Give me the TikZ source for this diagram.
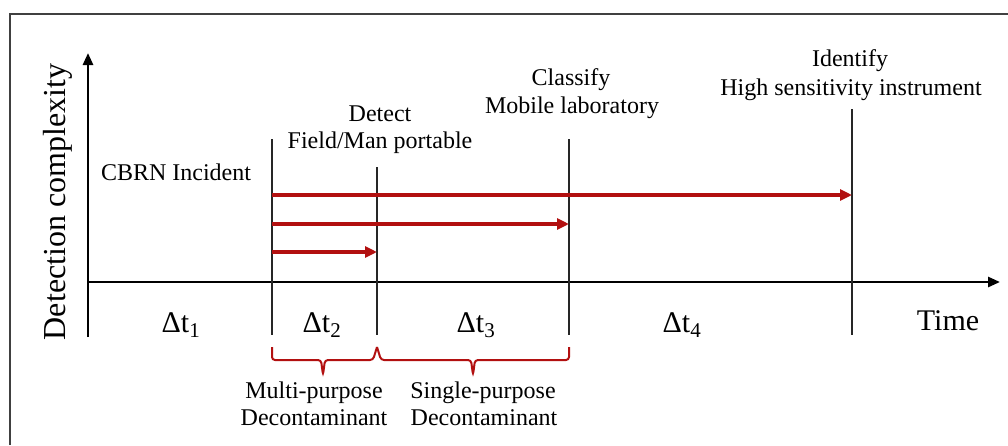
\documentclass[tikz,border=0pt]{standalone}
\usepackage{fontspec}
\setmainfont{Liberation Serif}
\usetikzlibrary{arrows.meta}
\definecolor{phasered}{RGB}{178,16,16}
\tikzset{
  lbl/.style={anchor=base, inner sep=0pt, font=\fontsize{24}{28}\selectfont},
  dlbl/.style={anchor=base, inner sep=0pt, font=\fontsize{30}{34}\selectfont},
  frame/.style={line width=1.3pt, black!75},
  axis/.style={line width=2.6pt, -{Triangle[length=12pt,width=10pt]}},
  tline/.style={line width=1.4pt, black!85},
  phasearrow/.style={line width=3.4pt, phasered, -{Triangle[length=12pt,width=11pt]}},
  bracket/.style={line width=2pt, phasered, rounded corners=3pt},
}

\begin{document}
\begin{tikzpicture}[x=1pt,y=-1pt]
\useasboundingbox (0,0) rectangle (1008,445);
\draw[frame] (10,445) -- (10,14) -- (1008,14);

% Axes
  \coordinate (ybot)   at (88,337);
  \coordinate (ytop)   at (88,53);
  \coordinate (xleft)  at (88,282);
  \coordinate (xright) at (1000,282);
      \draw[axis] (ybot)  -- (ytop);
      \draw[axis] (xleft) -- (xright);

% Phase lines
  \coordinate (incidenttop) at (272,139);  \coordinate (incidentbot) at (272,335);
  \coordinate (detecttop)   at (377,167);  \coordinate (detectbot)   at (377,335);
  \coordinate (classifytop) at (569,139);  \coordinate (classifybot) at (569,335);
  \coordinate (identifytop) at (852,109);  \coordinate (identifybot) at (852,335);
      \draw[tline] (incidenttop) -- (incidentbot);
      \draw[tline] (detecttop)   -- (detectbot);
      \draw[tline] (classifytop) -- (classifybot);
      \draw[tline] (identifytop) -- (identifybot);

% Arrows
  \coordinate (startA) at (272,195);  \coordinate (endA) at (852,195);
  \coordinate (startB) at (272,224);  \coordinate (endB) at (569,224);
  \coordinate (startC) at (272,252);  \coordinate (endC) at (377,252);
      \draw[phasearrow] (startA) -- (endA);
      \draw[phasearrow] (startB) -- (endB);
      \draw[phasearrow] (startC) -- (endC);

% Brackets
  \draw[bracket] (272,347) -- (272,360) -- (321,360) -- (323,375) -- (325,360)
                 -- (373,360) -- (377,347);
  \draw[bracket] (377,347) -- (381,360) -- (471,360) -- (473,375) -- (475,360)
                 -- (569,360) -- (569,347);

% Labels
  \node[lbl, rotate=90, font=\fontsize{32}{36}\selectfont] (ylabel) at (65,202) {Detection complexity};
  \node[lbl] (incident)  at (176,180) {CBRN Incident};
  \node[lbl] (detect)    at (380,121) {Detect};
  \node[lbl] (fieldport) at (380,148) {Field/Man portable};
  \node[lbl] (classify)  at (571,85)  {Classify};
  \node[lbl] (mobilelab) at (572,113) {Mobile laboratory};
  \node[lbl] (identify)  at (850,66)  {Identify};
  \node[lbl] (hsinstr)   at (851,95)  {High sensitivity instrument};

  \node[dlbl] (dt1)  at (181,332) {Δt\textsubscript{1}};
  \node[dlbl] (dt2)  at (322,332) {Δt\textsubscript{2}};
  \node[dlbl] (dt3)  at (476,332) {Δt\textsubscript{3}};
  \node[dlbl] (dt4)  at (682,332) {Δt\textsubscript{4}};
  \node[dlbl] (time) at (948,330) {Time};

  \node[lbl] (multi)     at (314,398) {Multi-purpose};
  \node[lbl] (multidec)  at (314,425) {Decontaminant};
  \node[lbl] (single)    at (483,398) {Single-purpose};
  \node[lbl] (singledec) at (484,425) {Decontaminant};

\end{tikzpicture}
\end{document}
